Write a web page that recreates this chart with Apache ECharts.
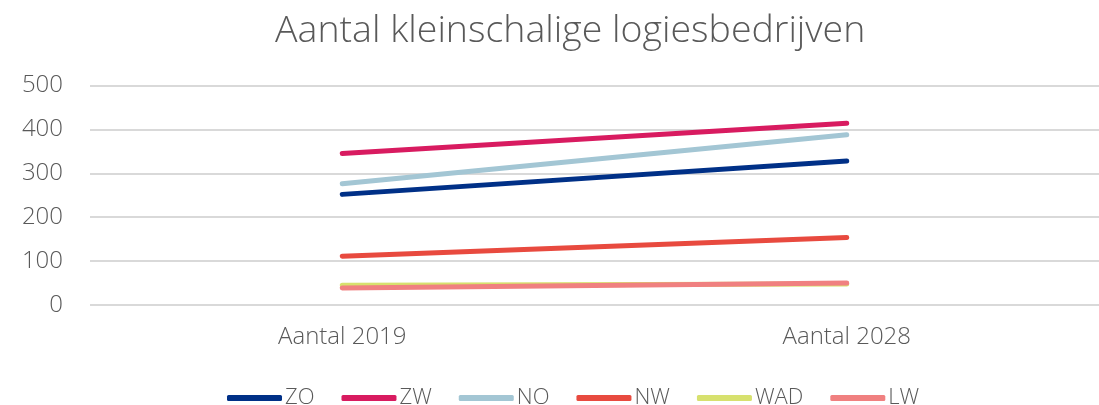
<!DOCTYPE html>
<html><head><meta charset="utf-8">
<script src="https://cdn.jsdelivr.net/npm/echarts@6/dist/echarts.min.js"></script>
<style>html,body{margin:0;padding:0;background:#fff}#c{width:1099px;height:405px}</style>
</head><body><div id="c"></div>
<script>
const categories = ["Aantal 2019", "Aantal 2028"];
const seriesNames = ["ZO", "ZW", "NO", "NW", "WAD", "LW"];
const ZO = [252, 328];
const ZW = [345, 414];
const NO = [276, 388];
const NW = [111, 154];
const WAD = [45, 48];
const LW = [39, 50];
const colors = ["#003087", "#D81B60", "#A3C6D4", "#E84A3F", "#D7E16E", "#F08080"];
const yTicks = {min: 0, max: 500, interval: 100};
const values = [ZO, ZW, NO, NW, WAD, LW];
const font = "'Open Sans', 'Noto Sans', sans-serif";
const chart = echarts.init(document.getElementById('c'));
chart.setOption({
  animation: false,
  color: colors,
  title: {text: "Aantal kleinschalige logiesbedrijven", left: 270, top: 7,
    textStyle: {fontFamily: font, fontWeight: 300, fontSize: 37.5, color: '#595959'}},
  grid: {left: 90, right: 0, top: 85.5, bottom: 100},
  legend: {top: 382, left: 222, itemWidth: 55, itemHeight: 6, itemGap: 27,
    icon: 'roundRect',
    textStyle: {fontFamily: font, fontWeight: 300, fontSize: 22, color: '#595959', padding: [0,0,0,-2]},
    data: seriesNames},
  xAxis: {type: 'category', data: categories, boundaryGap: true,
    axisLine: {show: false}, axisTick: {show: false},
    axisLabel: {fontFamily: font, fontWeight: 300, fontSize: 24, color: '#595959', margin: 20}},
  yAxis: {type: 'value', min: yTicks.min, max: yTicks.max, interval: yTicks.interval,
    axisLine: {show: false}, axisTick: {show: false},
    splitLine: {lineStyle: {color: '#D9D9D9', width: 2}},
    axisLabel: {fontFamily: font, fontWeight: 300, fontSize: 24, color: '#595959', margin: 27}},
  series: seriesNames.map((n, i) => ({
    name: n, type: 'line', data: values[i], symbol: 'none',
    lineStyle: {width: 5, cap: 'round'}, z: i === 4 ? 1 : 2
  }))
});
</script></body></html>
